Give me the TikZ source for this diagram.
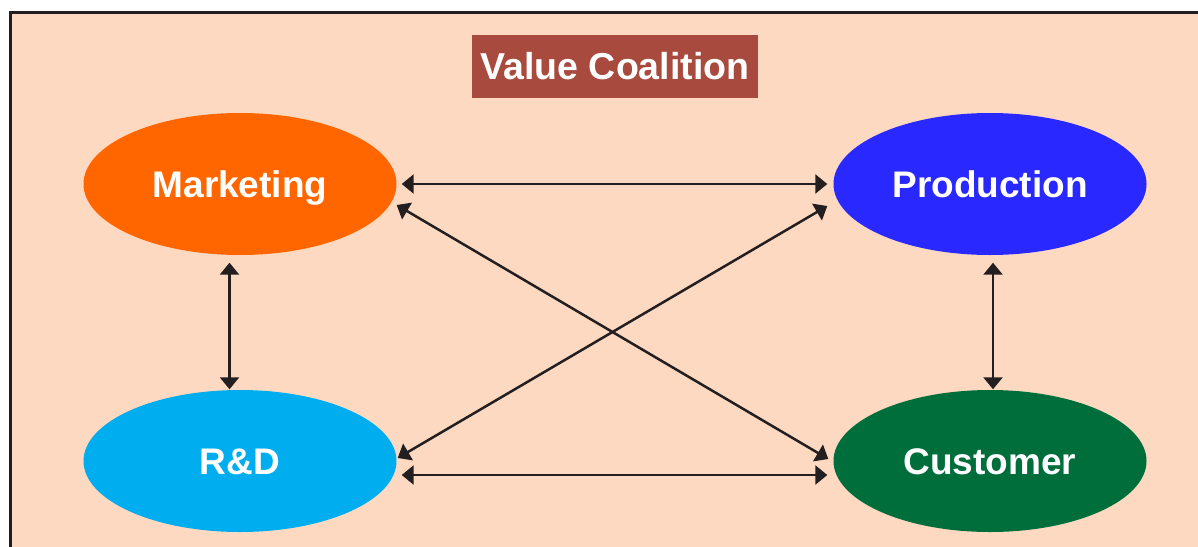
\documentclass[tikz,border=0pt]{standalone}
\usepackage{fontspec}
\setmainfont{Liberation Sans}
\usetikzlibrary{arrows.meta,shapes.geometric}
\definecolor{peach}{HTML}{FDD9C1}
\definecolor{frameink}{HTML}{231F20}
\definecolor{titlered}{HTML}{A84A3E}
\definecolor{mktorange}{HTML}{FF6600}
\definecolor{prodblue}{HTML}{2828FF}
\definecolor{rdcyan}{HTML}{00AEEF}
\definecolor{custgreen}{HTML}{006E3A}
\tikzset{
  unit/.style={ellipse, minimum width=313pt, minimum height=142pt, inner sep=0pt,
    text=white, font=\fontsize{37}{41}\selectfont\bfseries,
    text height=27pt, text depth=0pt},
  link/.style={draw=frameink, line width=2.5pt,
    {Triangle[length=12pt,width=19pt]}-{Triangle[length=12pt,width=19pt]}},
  titlebox/.style={fill=titlered, text=white, minimum width=286pt, minimum height=63pt,
    inner sep=0pt, font=\fontsize{37.5}{41}\selectfont\bfseries,
    text height=27pt, text depth=0pt}
}
\begin{document}
\begin{tikzpicture}[x=1pt, y=-1pt]
  % canvas
  \useasboundingbox (0,0) rectangle (1198,546);
  \clip (0,0) rectangle (1198,546);
  \fill[white] (0,0) rectangle (1198,546);
  \filldraw[fill=peach, draw=frameink, line width=3pt] (10.5,12) rectangle (1230,580);

  % title
  \node[titlebox] (title) at (615,66) {Value Coalition};

  % the four parties
  \node[unit, fill=mktorange] (mkt)  at (240,184) {Marketing};
  \node[unit, fill=prodblue]  (prod) at (990,184) {Production};
  \node[unit, fill=rdcyan]    (rd)   at (240,461) {R\&D};
  \node[unit, fill=custgreen] (cust) at (990,461) {Customer};

  % two-way links
  \draw[link] ([shift={(5,0)}]mkt.east) -- ([shift={(-6,0)}]prod.west);
  \draw[link] ([shift={(5,14)}]rd.east) -- ([shift={(-6,14)}]cust.west);
  \draw[link] ([shift={(-10.5,7.5)}]mkt.south) -- ([shift={(-10.5,-0.5)}]rd.north);
  \draw[link] ([shift={(3,7.5)}]prod.south) -- ([shift={(3,-0.5)}]cust.north);
  \draw[link] ([shift={(0,21)}]mkt.east) -- ([shift={(-5,-2)}]cust.west);
  \draw[link] ([shift={(1,-3)}]rd.east) -- ([shift={(-6,22)}]prod.west);
\end{tikzpicture}
\end{document}
